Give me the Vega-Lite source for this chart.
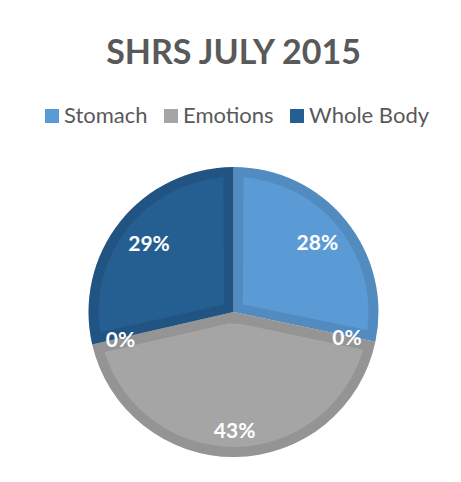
{
  "$schema": "https://vega.github.io/schema/vega-lite/v6.json",
  "width": 457,
  "height": 324,
  "autosize": "none",
  "padding": {"left": 5, "top": 150, "right": 0, "bottom": 8},
  "background": "white",
  "title": {"text": "SHRS JULY 2015", "font": "Lato", "fontSize": 34, "fontWeight": "bold", "color": "#595959", "anchor": "middle", "offset": 34},
  "data": {"values": [
    {"category": "Stomach", "value": 28.3, "n": 1, "label": "28%"},
    {"category": "Other 1", "value": 0, "n": 2, "label": "0%"},
    {"category": "Emotions", "value": 43.1, "n": 3, "label": "43%"},
    {"category": "Other 2", "value": 0, "n": 4, "label": "0%"},
    {"category": "Whole Body", "value": 28.6, "n": 5, "label": "29%"}
  ]},
  "encoding": {
    "theta": {"field": "value", "type": "quantitative", "stack": true},
    "order": {"field": "n", "type": "quantitative"}
  },
  "layer": [
    {
      "mark": {"type": "arc", "radius": 145},
      "encoding": {
        "color": {"field": "category", "type": "nominal",
          "scale": {"domain": ["Stomach", "Other 1", "Emotions", "Other 2", "Whole Body"], "range": ["#5b9bd5", "#ffffff", "#a5a5a5", "#ffffff", "#255e91"]},
          "legend": {"values": ["Stomach", "Emotions", "Whole Body"], "title": null, "orient": "none", "legendX": 36, "legendY": -45, "direction": "horizontal", "symbolType": "square", "symbolSize": 196, "symbolStrokeWidth": 0, "labelFont": "Lato", "labelFontSize": 22, "labelColor": "#595959", "labelOffset": 1, "columnPadding": 12}}
      }
    },
    {
      "mark": {"type": "arc", "radius": 145, "color": "black", "opacity": 0.1},
      "encoding": {"detail": {"field": "category"}}
    },
    {
      "mark": {"type": "arc", "radius": 135, "radius2": 12, "padAngle": 0.148},
      "encoding": {"color": {"field": "category", "type": "nominal"}}
    },
    {
      "mark": {"type": "text", "radius": 108, "font": "Lato", "fontSize": 21, "fontWeight": "bold", "color": "white"},
      "encoding": {
        "detail": {"field": "category"},
        "text": {"field": "label"},
        "opacity": {"condition": {"test": "datum.category === 'Stomach' || datum.category === 'Whole Body'", "value": 1}, "value": 0}
      }
    },
    {
      "mark": {"type": "text", "radius": 120, "font": "Lato", "fontSize": 21, "fontWeight": "bold", "color": "white"},
      "encoding": {
        "detail": {"field": "category"},
        "text": {"field": "label"},
        "opacity": {"condition": {"test": "datum.category === 'Emotions'", "value": 1}, "value": 0}
      }
    },
    {
      "mark": {"type": "text", "radius": 116, "dy": 3, "font": "Lato", "fontSize": 21, "fontWeight": "bold", "color": "white"},
      "encoding": {
        "detail": {"field": "category"},
        "text": {"field": "label"},
        "opacity": {"condition": {"test": "datum.value === 0", "value": 1}, "value": 0}
      }
    }
  ],
  "config": {"view": {"stroke": null}}
}
